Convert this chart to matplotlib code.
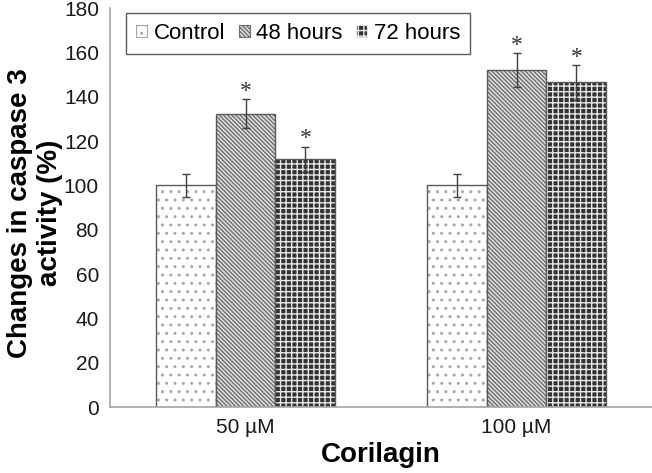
import matplotlib
matplotlib.use("Agg")
import matplotlib.pyplot as plt
import numpy as np
from matplotlib.patches import Patch

# Data
doses = ["50 µM", "100 µM"]
series = ["Control", "48 hours", "72 hours"]
control = [100, 100]
control_err = [5, 5]
h48 = [132.3, 152]
h48_err = [6.6, 7.6]
h72 = [111.8, 146.5]
h72_err = [5.7, 7.8]
significant = [[False, False], [True, True], [True, True]]

plt.rcParams['font.family'] = ['Liberation Sans', 'DejaVu Sans']
plt.rcParams['hatch.linewidth'] = 1.0

# looks for each series: face colour, hatch colour, hatch
styles = [
    ("#ffffff", "#a8a8a8", ".."),
    ("#e0e0e0", "#6e6e6e", "\\\\\\\\\\\\\\\\"),
    ("#333333", "#e8e8e8", "+++"),
]
values = [control, h48, h72]
errors = [control_err, h48_err, h72_err]

fig = plt.figure(figsize=(6.52, 4.73), dpi=100)
ax = fig.add_axes([110 / 652, 1 - 407.3 / 473, 542 / 652, 399.3 / 473])

x = np.arange(len(doses))
width = 0.2214
offsets = [-width, 0, width]

for vals, errs, (face, hcol, hatch), off, sig in zip(values, errors, styles, offsets, significant):
    # hatched fill first, then the outline on top
    ax.bar(x + off, vals, width, color=face, edgecolor=hcol, hatch=hatch, linewidth=0)
    ax.bar(x + off, vals, width, fill=False, edgecolor="#5a5a5a", linewidth=1)
    ax.errorbar(x + off, vals, yerr=errs, fmt="none", ecolor="#404040",
                elinewidth=1, capsize=3, capthick=1)
    for xi, v, e, s in zip(x + off, vals, errs, sig):
        if s:
            ax.text(xi, v + e - 1.2, "*", ha="center", va="bottom",
                    fontsize=17, family="Liberation Serif", color="#333333")

ax.set_xlim(-0.5, 1.5)
ax.set_ylim(0, 180)
ax.set_yticks(range(0, 181, 20))
ax.set_xticks(x)
ax.set_xticklabels(doses)
ax.tick_params(axis="both", length=0, labelsize=15, colors="#1a1a1a")
ax.tick_params(axis="y", pad=8)
ax.tick_params(axis="x", pad=8)

for side in ["top", "right"]:
    ax.spines[side].set_visible(False)
for side in ["left", "bottom"]:
    ax.spines[side].set_color("#a6a6a6")
    ax.spines[side].set_linewidth(1.2)

fig.text(35 / 652, 0.55, "Changes in caspase 3\nactivity (%)", rotation=90,
         ha="center", va="center", fontsize=20, fontweight="bold",
         linespacing=1.2)
fig.text(0.5 * (110 + 652) / 652, 1 - 455 / 473, "Corilagin", ha="center",
         va="center", fontsize=20, fontweight="bold")

handles = [Patch(facecolor=f, edgecolor=h, hatch=ht, linewidth=0.8) for f, h, ht in styles]
leg = ax.legend(handles, series, loc="upper left", bbox_to_anchor=(0.0295, 0.988),
                ncol=3, fontsize=16, handlelength=0.5, handleheight=0.5,
                handletextpad=0.3, columnspacing=0.6, borderpad=0.45,
                borderaxespad=0, frameon=True, fancybox=False)
leg.get_frame().set_edgecolor("#333333")
leg.get_frame().set_linewidth(1.0)

fig.savefig("out.png", dpi=100)
